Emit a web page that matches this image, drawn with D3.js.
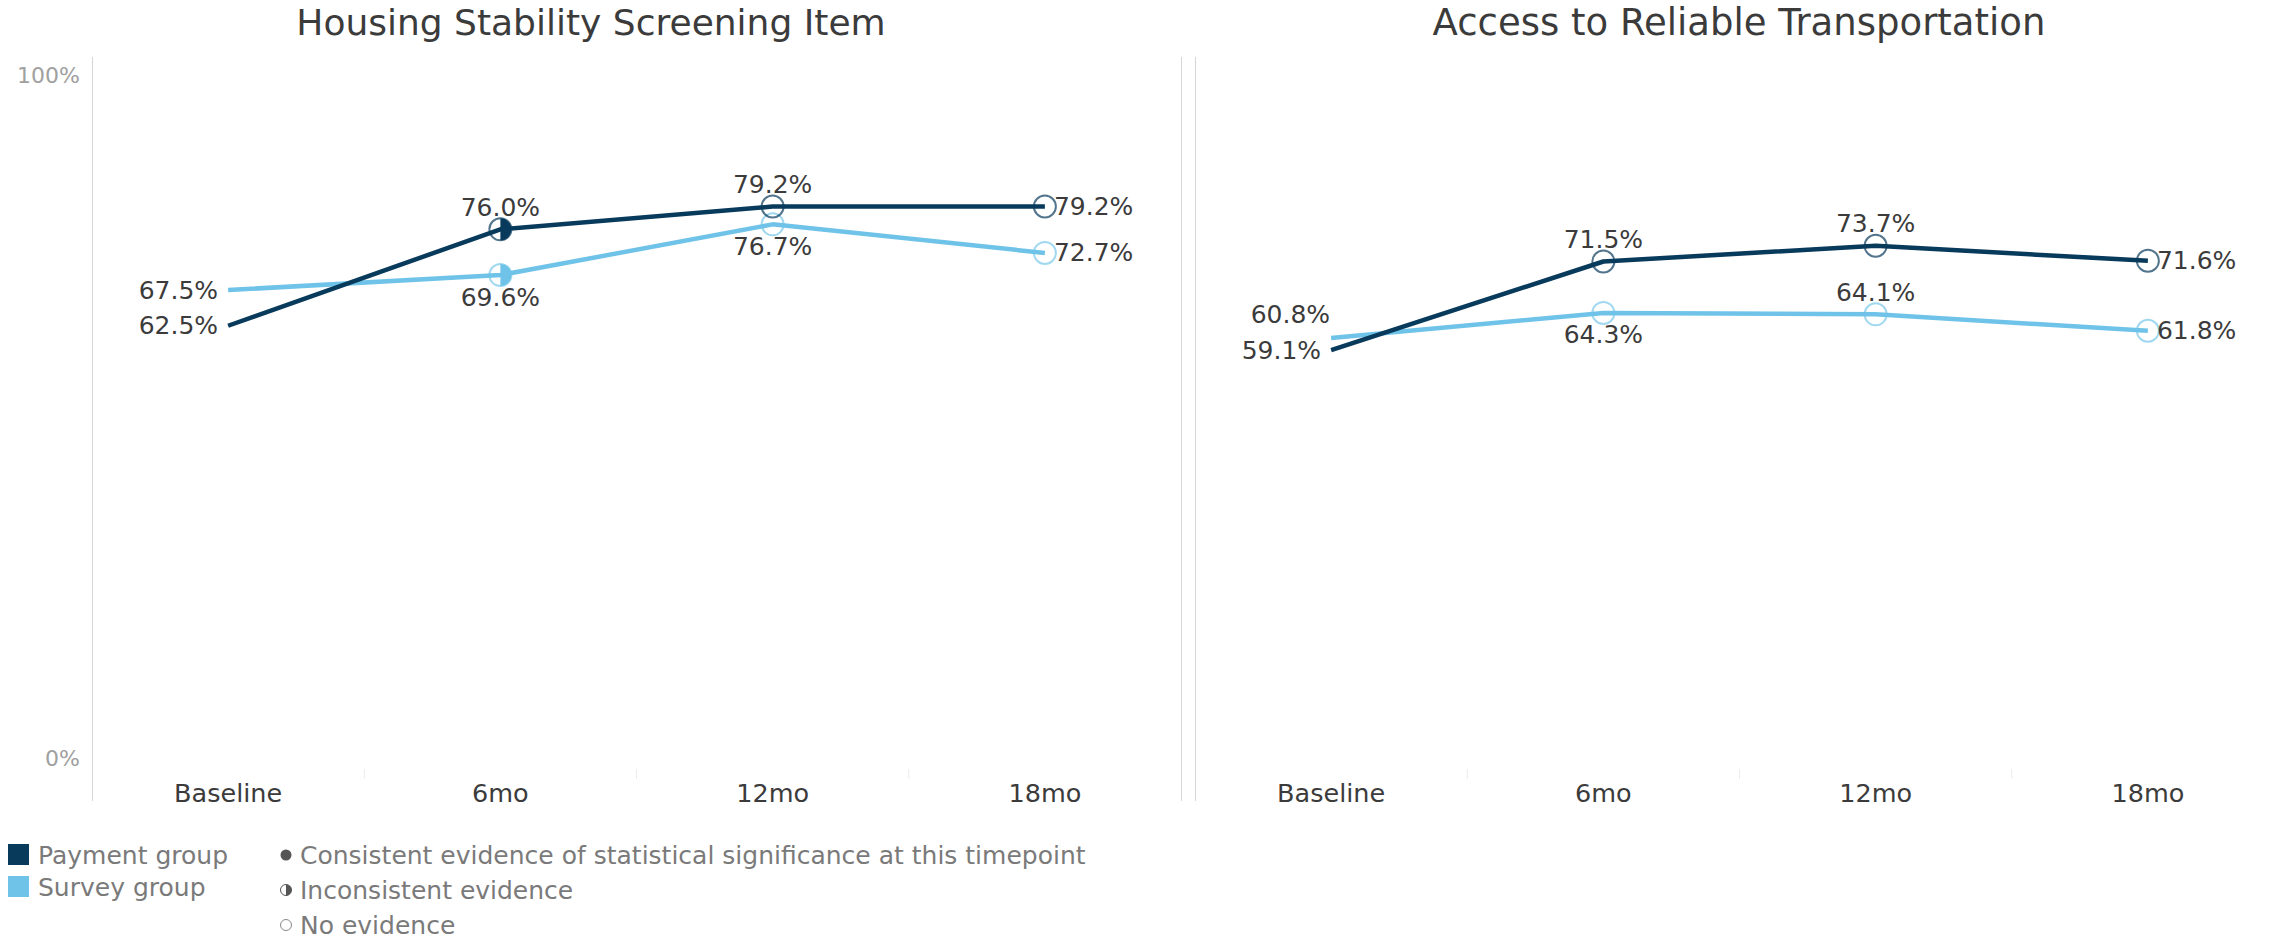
<!DOCTYPE html>
<html>
<head>
<meta charset="utf-8">
<script src="https://cdn.jsdelivr.net/npm/d3@7"></script>
<style>
  html, body { margin: 0; padding: 0; background: #ffffff; }
  svg { display: block; font-family: "DejaVu Sans", sans-serif; }
</style>
</head>
<body>
<svg id="chart" width="2283" height="940"></svg>
<script>
// ---- data ----
const timepoints = ["Baseline", "6mo", "12mo", "18mo"];

const housingPayment   = [0.625, 0.760, 0.792, 0.792];
const housingSurvey    = [0.675, 0.696, 0.767, 0.727];
const housingEvidence  = [null, "inconsistent", "none", "none"];

const transportPayment  = [0.591, 0.715, 0.737, 0.716];
const transportSurvey   = [0.608, 0.643, 0.641, 0.618];
const transportEvidence = [null, "none", "none", "none"];

const yTickValues = [0, 1];
const groupNames = ["Payment group", "Survey group"];
const evidenceNames = [
  "Consistent evidence of statistical significance at this timepoint",
  "Inconsistent evidence",
  "No evidence"
];

// ---- styling ----
const PAYMENT = "#083a5c";
const SURVEY = "#6fc3e8";
const TEXT = "#3b3b3b";
const GRID = "#d6d6d6";

const svg = d3.select("#chart");
const y = d3.scaleLinear().domain([0, 1]).range([772, 58]);
const fmt = d3.format(".1%");

const panels = [
  {
    title: "Housing Stability Screening Item",
    left: 92, right: 1181, titleX: 591, titleSize: 36, showY: true,
    series: [
      { values: housingSurvey, color: SURVEY, evidence: housingEvidence,
        place: ["left", "below", "below", "right"] },
      { values: housingPayment, color: PAYMENT, evidence: housingEvidence,
        place: ["left", "above", "above", "right"] }
    ]
  },
  {
    title: "Access to Reliable Transportation",
    left: 1195, right: 2284, titleX: 1739, titleSize: 37, showY: false,
    series: [
      { values: transportSurvey, color: SURVEY, evidence: transportEvidence,
        place: ["leftAbove", "below", "above", "right"] },
      { values: transportPayment, color: PAYMENT, evidence: transportEvidence,
        place: ["left", "above", "above", "right"] }
    ]
  }
];

panels.forEach(p => {
  const g = svg.append("g");
  const x = d3.scaleBand().domain(timepoints).range([p.left, p.right]);
  const cx = d => x(d) + x.bandwidth() / 2;

  // title
  g.append("text")
    .attr("x", p.titleX).attr("y", 22)
    .attr("text-anchor", "middle").attr("dominant-baseline", "central")
    .attr("font-size", p.titleSize).attr("fill", TEXT)
    .text(p.title);

  // pane borders
  g.append("line").attr("x1", p.left + 0.5).attr("x2", p.left + 0.5)
    .attr("y1", 57).attr("y2", 801).attr("stroke", GRID);
  if (p.showY) {
    g.append("line").attr("x1", p.right + 0.5).attr("x2", p.right + 0.5)
      .attr("y1", 57).attr("y2", 801).attr("stroke", GRID);
  }

  // y axis labels
  if (p.showY) {
    const ya = g.append("g").attr("transform", `translate(${p.left},0)`)
      .call(d3.axisLeft(y).tickValues(yTickValues).tickSize(0).tickFormat(d3.format(".0%")));
    ya.select(".domain").remove();
    ya.selectAll("text")
      .attr("x", -12)
      .attr("dy", null)
      .attr("dominant-baseline", "central")
      .attr("transform", d => `translate(0,${d === 1 ? 17 : -14})`)
      .attr("font-family", "DejaVu Sans, sans-serif")
      .attr("font-size", 22).attr("fill", "#a0a0a0");
  }

  // x axis labels
  const xa = g.append("g").attr("transform", "translate(0,793)")
    .call(d3.axisBottom(x).tickSize(0));
  xa.select(".domain").remove();
  xa.selectAll("text")
    .attr("y", 0).attr("dy", null)
    .attr("dominant-baseline", "central")
    .attr("font-family", "DejaVu Sans, sans-serif")
    .attr("font-size", 25.5).attr("fill", TEXT);

  // faint category dividers at the baseline
  timepoints.slice(1).forEach(t => {
    g.append("line").attr("x1", x(t)).attr("x2", x(t))
      .attr("y1", 769).attr("y2", 779).attr("stroke", "#ececec");
  });

  const line = d3.line().x((d, i) => cx(timepoints[i])).y(d => y(d));

  p.series.forEach(s => {
    g.append("path").datum(s.values)
      .attr("d", line).attr("fill", "none")
      .attr("stroke", s.color).attr("stroke-width", 4.5)
      .attr("stroke-linejoin", "round");
  });

  // evidence markers
  const r = 11;
  p.series.forEach(s => {
    s.values.forEach((v, i) => {
      const ev = s.evidence[i];
      if (!ev) return;
      const px = cx(timepoints[i]), py = y(v);
      if (ev === "inconsistent") {
        g.append("path")
          .attr("d", d3.arc()({ innerRadius: 0, outerRadius: r, startAngle: 0, endAngle: Math.PI }))
          .attr("transform", `translate(${px},${py})`)
          .attr("fill", s.color);
      }
      g.append("circle").attr("cx", px).attr("cy", py).attr("r", r)
        .attr("fill", ev === "consistent" ? s.color : "none")
        .attr("stroke", s.color).attr("stroke-width", 2)
        .attr("stroke-opacity", s.color === PAYMENT ? 0.7 : 0.65);
    });
  });

  // value labels
  p.series.forEach(s => {
    s.values.forEach((v, i) => {
      const px = cx(timepoints[i]), py = y(v);
      const pl = s.place[i];
      let tx = px, ty = py, anchor = "middle";
      if (pl === "above") ty = py - 22;
      else if (pl === "below") ty = py + 22;
      else if (pl === "left") { tx = px - 10; anchor = "end"; }
      else if (pl === "leftAbove") { tx = px - 1; ty = py - 23; anchor = "end"; }
      else if (pl === "right") { tx = px + 9; anchor = "start"; }
      g.append("text")
        .attr("x", tx).attr("y", ty)
        .attr("text-anchor", anchor).attr("dominant-baseline", "central")
        .attr("font-size", 25).attr("fill", TEXT)
        .text(fmt(v));
    });
  });
});

// ---- legends ----
const legend = svg.append("g");
const LEG = "#7a7a7a";
groupNames.forEach((name, i) => {
  const yy = 855 + i * 32;
  legend.append("rect").attr("x", 8).attr("y", yy - 11).attr("width", 21).attr("height", 21)
    .attr("fill", i === 0 ? PAYMENT : SURVEY);
  legend.append("text").attr("x", 38).attr("y", yy)
    .attr("dominant-baseline", "central").attr("font-size", 25).attr("fill", LEG)
    .text(name);
});

evidenceNames.forEach((name, i) => {
  const yy = 855 + i * 35;
  const sx = 286, sr = 5.5;
  const mark = legend.append("g").attr("transform", `translate(${sx},${yy})`);
  if (i === 0) {
    mark.append("circle").attr("r", sr).attr("fill", "#555");
  } else if (i === 1) {
    mark.append("path")
      .attr("d", d3.arc()({ innerRadius: 0, outerRadius: sr, startAngle: 0, endAngle: Math.PI }))
      .attr("fill", "#555");
    mark.append("circle").attr("r", sr).attr("fill", "none").attr("stroke", "#555").attr("stroke-width", 1);
  } else {
    mark.append("circle").attr("r", sr).attr("fill", "none").attr("stroke", "#888").attr("stroke-width", 1);
  }
  legend.append("text").attr("x", 300).attr("y", yy)
    .attr("dominant-baseline", "central").attr("font-size", 25).attr("fill", LEG)
    .text(name);
});
</script>
</body>
</html>
